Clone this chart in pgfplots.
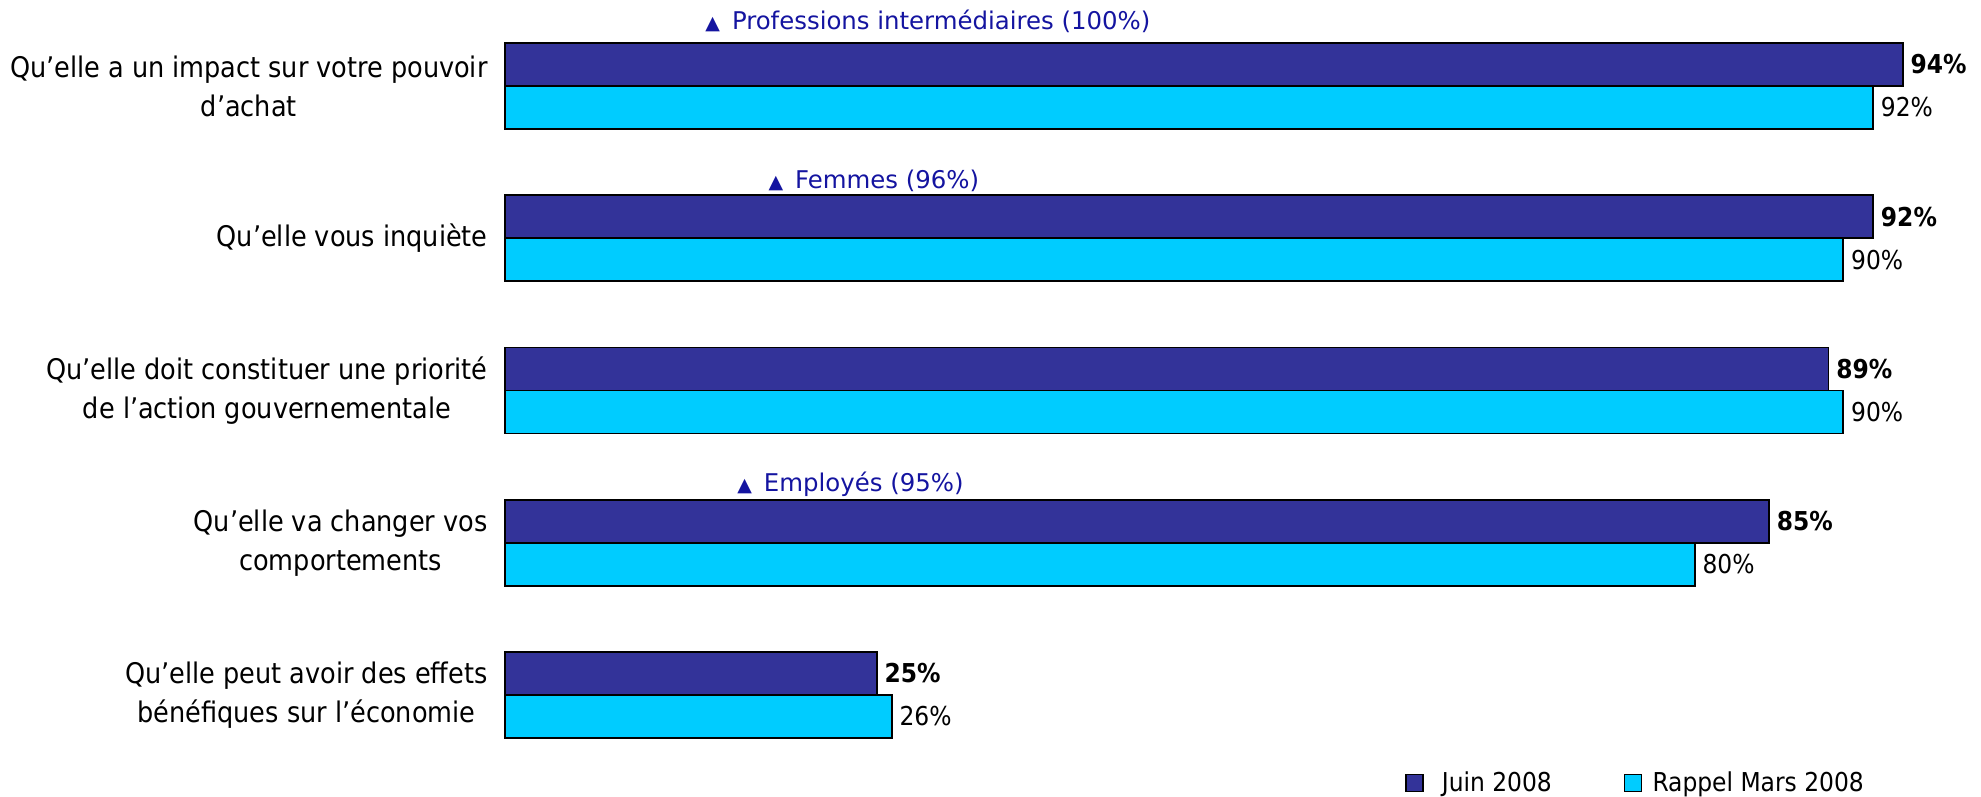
\documentclass[border=0pt]{standalone}
\usepackage{fontspec}
\usepackage{pgfplots}
\pgfplotsset{compat=1.18}
\newfontfamily\labfont{DejaVu Sans Condensed}
\newfontfamily\annfont{DejaVu Sans}
\definecolor{darkbar}{RGB}{51,51,153}
\definecolor{lightbar}{RGB}{0,204,255}
\definecolor{annblue}{RGB}{20,20,160}
\begin{document}
\begin{tikzpicture}
\path[use as bounding box] (0,0) rectangle (990.5pt,398.5pt);
\begin{axis}[
  at={(252.5pt,12.94pt)}, anchor=south west,
  scale only axis, width=743.5pt, height=380.6pt,
  xmin=0, xmax=100, ymin=-0.5, ymax=4.5,
  xbar, bar width=21.5pt,
  clip=false,
  axis line style={draw=none},
  xtick=\empty,
  ytick={0,1,2,3,4},
  yticklabels={{Qu’elle peut avoir des effets\\bénéfiques sur l’économie},
               {Qu’elle va changer vos\\comportements},
               {Qu’elle doit constituer une priorité\\de l’action gouvernementale},
               {Qu’elle vous inquiète},
               {Qu’elle a un impact sur votre pouvoir\\d’achat}},
  major tick length=0pt,
  yticklabel style={font=\labfont\fontsize{14.2}{19.5}\selectfont, align=center, inner sep=0pt, xshift=-8.5pt},
  legend style={draw=none, fill=none, inner sep=0pt, at={(0.6052,-0.0156)}, anchor=west,
    nodes={inner sep=0pt},
    legend columns=2, font=\labfont\fontsize{13}{15}\selectfont,
    /tikz/every even column/.append style={column sep=36pt}},
  point meta=x,
]
\addplot[fill=darkbar, draw=black, line width=0.9pt, bar shift=10.75pt,
  legend image code/.code={\draw[fill=darkbar,draw=black,line width=0.7pt] (0pt,-4.25pt) rectangle (8.5pt,4.25pt); \path (17.5pt,0pt);},
  nodes near coords={\pgfmathprintnumber[fixed,precision=0,assume math mode=true]{\pgfplotspointmeta}\%},
  nodes near coords style={anchor=west, inner sep=0pt, xshift=3.5pt, font=\labfont\bfseries\fontsize{13}{15}\selectfont, text=black}]
  coordinates {(94,4) (92,3) (89,2) (85,1) (25,0)};
\addplot[fill=lightbar, draw=black, line width=0.9pt, bar shift=-10.75pt,
  legend image code/.code={\draw[fill=lightbar,draw=black,line width=0.7pt] (0pt,-4.25pt) rectangle (8.5pt,4.25pt); \path (13.5pt,0pt);},
  nodes near coords={\pgfmathprintnumber[fixed,precision=0,assume math mode=true]{\pgfplotspointmeta}\%},
  nodes near coords style={anchor=west, inner sep=0pt, xshift=3.5pt, font=\labfont\fontsize{13}{15}\selectfont, text=black}]
  coordinates {(92,4) (90,3) (90,2) (80,1) (26,0)};
\legend{Juin 2008, Rappel Mars 2008}
\node[anchor=west, inner sep=0pt, font=\annfont\fontsize{12.2}{14}\selectfont, text=annblue] at (axis cs:13.45,4.424) {{\fontsize{9.5}{9.5}\selectfont▲}\hspace{6pt}Professions intermédiaires (100\%)};
\node[anchor=west, inner sep=0pt, font=\annfont\fontsize{12.2}{14}\selectfont, text=annblue] at (axis cs:17.7,3.374) {{\fontsize{9.5}{9.5}\selectfont▲}\hspace{6pt}Femmes (96\%)};
\node[anchor=west, inner sep=0pt, font=\annfont\fontsize{12.2}{14}\selectfont, text=annblue] at (axis cs:15.6,1.381) {{\fontsize{9.5}{9.5}\selectfont▲}\hspace{6pt}Employés (95\%)};
\end{axis}
\end{tikzpicture}
\end{document}
